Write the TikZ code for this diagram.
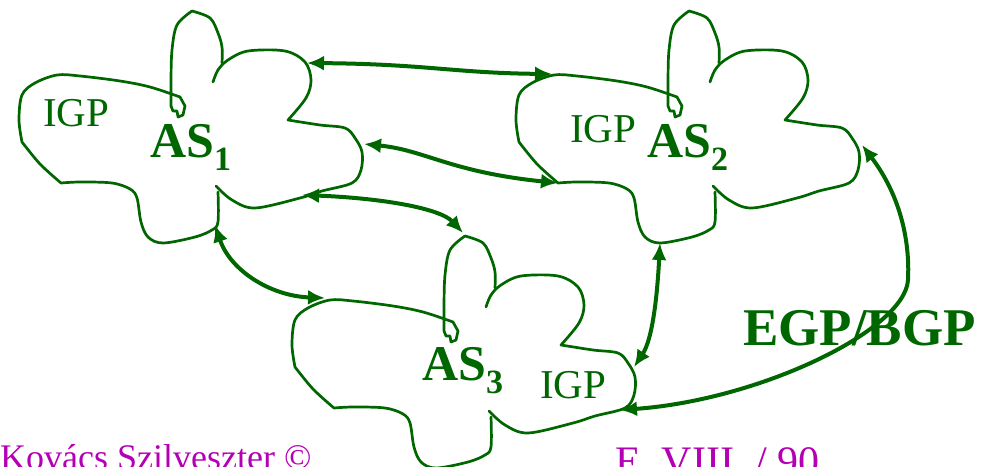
\documentclass[tikz,border=0pt]{standalone}
\usepackage{fontspec}
\setmainfont{Liberation Serif}
\usetikzlibrary{arrows.meta}
\definecolor{asgreen}{RGB}{0,102,0}
\definecolor{footmag}{RGB}{180,0,180}
\newcommand\drawascloud{%
  \draw[outline]
    plot[smooth,tension=0.55] coordinates {(218,192) (218,222) (212,230) (195,237) (163,243) (148,237) (141,222) (137,198) (130,189) (112,183) (80,182) (61,183)}
    -- plot[smooth,tension=0.55] coordinates {(61,183) (40,164) (22,142)}
    -- plot[smooth,tension=0.55] coordinates {(22,142) (19,120) (22,95) (35,83) (57,75) (80,76) (120,81) (150,87) (180,97)}
    -- (185,106) -- (183,115) -- (178,117) -- (177,111) -- (173,111) -- (171,106)
    -- plot[smooth,tension=0.55] coordinates {(171,106) (171,80) (172,50) (177,25) (192,11)}
    -- plot[smooth,tension=0.55] coordinates {(192,11) (210,18) (218,33) (222,47) (222,63)};
  \draw[outline]
    plot[smooth,tension=0.55] coordinates {(213,82) (218,70) (228,60) (248,51) (285,51) (305,62) (311,80) (306,98) (288,120)}
    -- plot[smooth,tension=0.55] coordinates {(288,120) (320,125) (345,128) (355,138) (362,152) (361,170) (352,183) (322,191) (300,198) (255,208) (232,200) (216,186)};
}
\begin{document}
\begin{tikzpicture}[x=1pt,y=-1pt,
  outline/.style={draw=asgreen, line width=2.7pt, line join=round, line cap=round},
  link/.style={draw=asgreen, line width=4pt, {Latex[length=17pt,width=15pt]}-{Latex[length=17pt,width=15pt]}},
  lbl/.style={text=asgreen, inner sep=0pt, anchor=base west, font=\fontsize{41}{41}\selectfont},
  aslbl/.style={text=asgreen, inner sep=0pt, anchor=base west, font=\fontsize{50}{50}\selectfont\bfseries},
  foot/.style={text=footmag, inner sep=0pt, anchor=base west}]
\useasboundingbox (0,0) rectangle (990,466);
% clouds
\begin{scope}\drawascloud\end{scope}
\begin{scope}[shift={(497,0)}]\drawascloud\end{scope}
\begin{scope}[shift={(273,225)}]\drawascloud\end{scope}
% labels
\node[lbl] (igp1) at (43,126) {IGP};
\node[aslbl] (as1) at (150,157) {AS\raisebox{-13pt}{\fontsize{34}{34}\selectfont 1}};
\node[lbl] (igp2) at (570,142) {IGP};
\node[aslbl] (as2) at (647,157) {AS\raisebox{-13pt}{\fontsize{34}{34}\selectfont 2}};
\node[aslbl] (as3) at (422,380) {AS\raisebox{-13pt}{\fontsize{34}{34}\selectfont 3}};
\node[lbl] (igp3) at (540,398) {IGP};
\node[aslbl, font=\fontsize{53}{53}\selectfont\bfseries] (egp) at (743,345) {EGP/BGP};
\node[foot, font=\fontsize{36}{36}\selectfont] (author) at (0,469) {Kovács Szilveszter ©};
\node[foot, font=\fontsize{42}{42}\selectfont] (page) at (615,475) {E. VIII. / 90};
% connector end points on cloud outlines
\coordinate (a1t) at (307,63);
\coordinate (a2t) at (552,74);
\coordinate (a1m) at (364,144);
\coordinate (a2m) at (558,183);
\coordinate (a1r) at (302,195);
\coordinate (a3t) at (463,233);
\coordinate (a1b) at (215,225);
\coordinate (a3l) at (325,298);
\coordinate (a2b) at (660,243);
\coordinate (a3r) at (634,367);
\coordinate (a2r) at (862,145);
\coordinate (a3b) at (620,410);
% links
\draw[link] (a1t) .. controls (425,64) and (455,73) .. (a2t);
\draw[link] (a1m) .. controls (425,150) and (450,172) .. (a2m);
\draw[link] (a1r) .. controls (380,198) and (440,208) .. (a3t);
\draw[link] (a1b) .. controls (230,270) and (270,296) .. (a3l);
\draw[link] (a2b) .. controls (657,300) and (652,340) .. (a3r);
\draw[link] (a2r) .. controls (900,195) and (910,240) .. (908,280) .. controls (905,330) and (760,400) .. (a3b);
\end{tikzpicture}
\end{document}
